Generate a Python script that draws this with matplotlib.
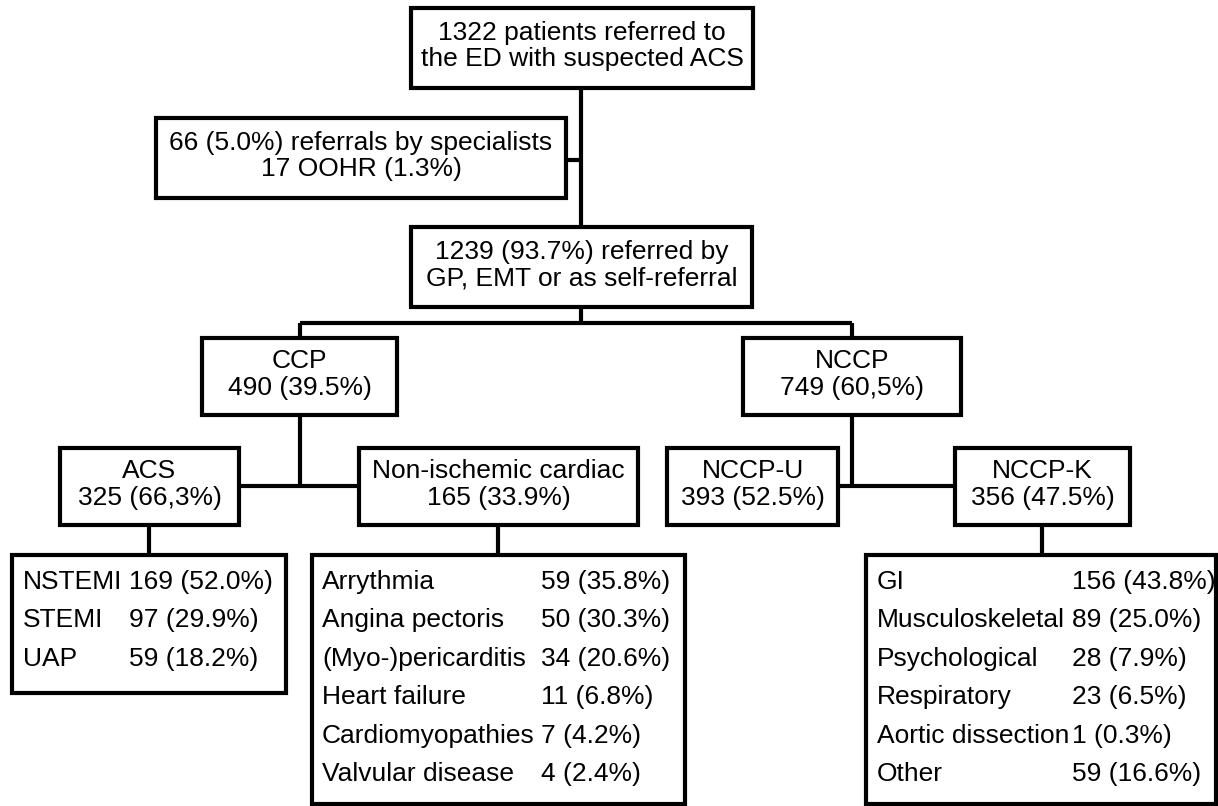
import matplotlib.pyplot as plt
from matplotlib.patches import Rectangle

plt.rcParams['font.family'] = ['Liberation Sans', 'DejaVu Sans']

# ---- texts of the flowchart ----
top_text = "1322 patients referred to\nthe ED with suspected ACS"
side_text = "66 (5.0%) referrals by specialists\n17 OOHR (1.3%)"
mid_text = "1239 (93.7%) referred by\nGP, EMT or as self-referral"
ccp_text = "CCP\n490 (39.5%)"
nccp_text = "NCCP\n749 (60,5%)"
acs_text = "ACS\n325 (66,3%)"
nonisch_text = "Non-ischemic cardiac\n165 (33.9%)"
nccpu_text = "NCCP-U\n393 (52.5%)"
nccpk_text = "NCCP-K\n356 (47.5%)"

acs_names = ["NSTEMI", "STEMI", "UAP"]
acs_values = ["169 (52.0%)", "97 (29.9%)", "59 (18.2%)"]

nonisch_names = ["Arrythmia", "Angina pectoris", "(Myo-)pericarditis",
                 "Heart failure", "Cardiomyopathies", "Valvular disease"]
nonisch_values = ["59 (35.8%)", "50 (30.3%)", "34 (20.6%)",
                  "11 (6.8%)", "7 (4.2%)", "4 (2.4%)"]

nccpk_names = ["GI", "Musculoskeletal", "Psychological", "Respiratory",
               "Aortic dissection", "Other"]
nccpk_values = ["156 (43.8%)", "89 (25.0%)", "28 (7.9%)", "23 (6.5%)",
                "1 (0.3%)", "59 (16.6%)"]

# ---- layout (pixel coords, y down) ----
W, H = 1218, 806
LW = 3.0
FS = 19

fig = plt.figure(figsize=(W / 100, H / 100), dpi=100)
ax = fig.add_axes([0, 0, 1, 1])
ax.set_xlim(0, W)
ax.set_ylim(H, 0)
ax.axis('off')


def box(x0, y0, x1, y1, text=None):
    ax.add_patch(Rectangle((x0, y0), x1 - x0, y1 - y0, fill=False,
                           edgecolor='black', linewidth=LW, joinstyle='miter'))
    if text:
        ax.text((x0 + x1) / 2, (y0 + y1) / 2 - 2, text, ha='center', va='center',
                fontsize=FS, linespacing=1.15)


def line(xs, ys):
    ax.plot(xs, ys, color='black', linewidth=LW, solid_capstyle='butt')


def listing(x0, y0, x1, y1, names, values, xval, xname_off=11):
    ax.add_patch(Rectangle((x0, y0), x1 - x0, y1 - y0, fill=False,
                           edgecolor='black', linewidth=LW, joinstyle='miter'))
    for i, (n, v) in enumerate(zip(names, values)):
        y = y0 + 27 + i * 38.4
        ax.text(x0 + xname_off, y, n, ha='left', va='center', fontsize=FS)
        ax.text(xval, y, v, ha='left', va='center', fontsize=FS)


box(411, 8, 753, 88, top_text)
box(156, 118, 566, 198, side_text)
box(411, 227, 752, 307, mid_text)
box(202, 338, 397, 415, ccp_text)
box(743, 338, 961, 415, nccp_text)
box(60, 448, 239, 525, acs_text)
box(359, 448, 638, 525, nonisch_text)
box(667, 448, 838, 525, nccpu_text)
box(955, 448, 1130, 525, nccpk_text)

listing(12, 555, 286, 693, acs_names, acs_values, 129)
listing(312, 555, 685, 804, nonisch_names, nonisch_values, 541, 10)
listing(866, 555, 1216, 804, nccpk_names, nccpk_values, 1072)

# connectors
line([581, 581], [88, 227])
line([566, 581], [160, 160])
line([581, 581], [307, 323])
line([300, 852], [323, 323])
line([300, 300], [323, 338])
line([852, 852], [323, 338])
line([300, 300], [415, 486])
line([239, 359], [486, 486])
line([852, 852], [415, 486])
line([838, 955], [486, 486])
line([149, 149], [525, 555])
line([498, 498], [525, 555])
line([1042, 1042], [525, 555])

fig.savefig('out.png', dpi=100, facecolor='white')
